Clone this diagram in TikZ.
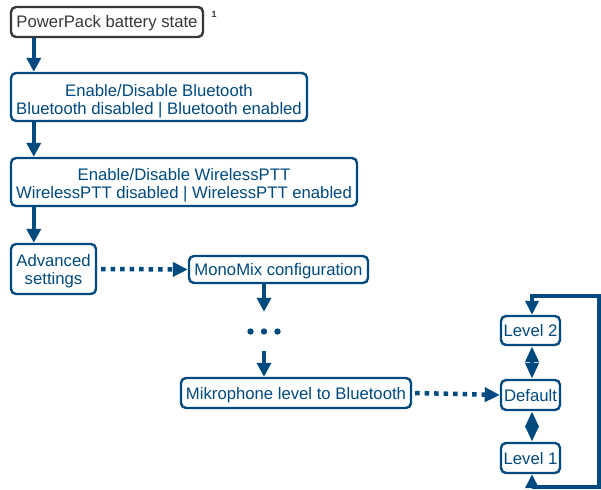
\documentclass[tikz,border=0pt]{standalone}
\usepackage{fontspec}
\setmainfont{Liberation Sans}
\usetikzlibrary{arrows.meta}
\definecolor{pblue}{RGB}{0,74,127}
\definecolor{pgray}{RGB}{55,55,55}
\newcommand\boxtxt[2][2.8pt]{\raisebox{-#1}[\height][\depth]{\begin{tabular}{@{}c@{}}#2\end{tabular}}}
\tikzset{
  box/.style={draw=pblue, text=pblue, line width=2.4pt, rounded corners=5pt, fill=white,
    inner sep=0pt, font=\fontsize{16.7}{18}\selectfont},
  conn/.style={draw=pblue, line width=4pt, -{Triangle[length=14pt,width=14pt]}},
  dotconn/.style={draw=pblue, line width=4.5pt, dash pattern=on 4.5pt off 5pt, -{Triangle[length=15pt,width=14pt]}},
  bothconn/.style={draw=pblue, line width=4pt, {Triangle[length=16pt,width=13pt]}-{Triangle[length=16pt,width=13pt]}},
}
\begin{document}
\begin{tikzpicture}[x=1pt,y=-1pt]
\useasboundingbox (0,0) rectangle (601,489);
\node[box, draw=pgray, text=pgray, minimum width=192pt, minimum height=30pt] (pp) at (107,22) {\boxtxt[1.8pt]{PowerPack battery state}};
\node[text=pgray, font=\fontsize{9}{10}\selectfont\bfseries, inner sep=0pt] (sup) at (214,14) {1};
\node[box, minimum width=296pt, minimum height=48pt] (bt) at (159,97) {\boxtxt[4.5pt]{Enable/Disable Bluetooth\\Bluetooth disabled | Bluetooth enabled}};
\node[box, minimum width=346pt, minimum height=48pt] (wp) at (184,182) {\boxtxt[4pt]{Enable/Disable WirelessPTT\\WirelessPTT disabled | WirelessPTT enabled}};
\node[box, minimum width=85pt, minimum height=50pt] (adv) at (53.5,269) {\boxtxt[3pt]{Advanced\\settings}};
\node[box, minimum width=179pt, minimum height=27pt] (mm) at (278.5,269.5) {\boxtxt{MonoMix configuration}};
\node[minimum width=30pt, minimum height=39pt, inner sep=0pt] (dots) at (264,331.5) {};
\node[box, minimum width=230pt, minimum height=30pt] (mic) at (296,393) {\boxtxt[2.4pt]{Mikrophone level to Bluetooth}};
\node[box, minimum width=59pt, minimum height=29pt] (l2) at (530.5,330.5) {\boxtxt{Level 2}};
\node[box, minimum width=59pt, minimum height=30pt] (def) at (530.5,395) {\boxtxt{Default}};
\node[box, minimum width=59pt, minimum height=30pt] (l1) at (530.5,458) {\boxtxt{Level 1}};
\coordinate (lt) at (599,296);
\coordinate (lb) at (599,487);
\foreach \dx in {-13.5,0,13.5} \fill[pblue] ([xshift=\dx pt]dots.center) circle (3.2pt);
\draw[conn] ([xshift=24pt]pp.south west) -- ([xshift=24pt]bt.north west);
\draw[conn] ([xshift=24pt]bt.south west) -- ([xshift=24pt]wp.north west);
\draw[conn] ([xshift=24pt]wp.south west) -- ([xshift=24pt]adv.north west);
\draw[dotconn] ([xshift=4pt]adv.east) -- (mm.west);
\draw[conn] (mm.south -| dots.north) -- (dots.north);
\draw[conn] (dots.south) -- (mic.north -| dots.south);
\draw[dotconn] ([xshift=3pt]mic.east) -- (def.west);
\draw[bothconn] ([xshift=1.5pt]l2.south) -- ([xshift=1.5pt]def.north);
\draw[bothconn] ([xshift=1.5pt]def.south) -- ([xshift=1.5pt]l1.north);
\draw[draw=pblue, line width=4pt, {Triangle[length=14pt,width=13pt]}-{Triangle[length=14pt,width=13pt]}, line join=miter]
  ([xshift=1.5pt]l1.south) -- ([xshift=1.5pt]l1.south |- lb) -- (lb) -- (lt) -- ([xshift=1.5pt]l2.north |- lt) -- ([xshift=1.5pt]l2.north);
\end{tikzpicture}
\end{document}
